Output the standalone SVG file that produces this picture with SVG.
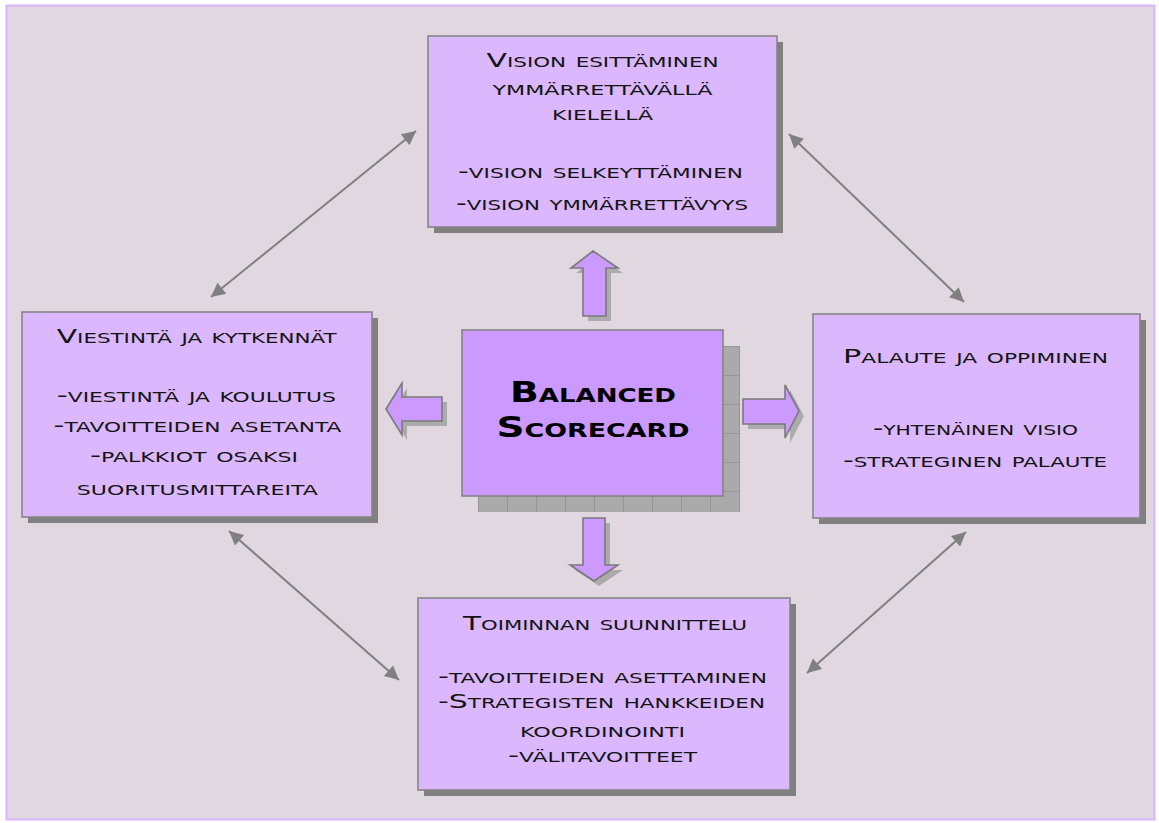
<svg xmlns="http://www.w3.org/2000/svg" width="1159" height="823" viewBox="0 0 1159 823">
<defs>
<style>
.box{fill:#dbb8fd;stroke:#858585;stroke-width:1.6}
.shd{fill:#808080}
.t{font-family:"DejaVu Sans","Liberation Sans",sans-serif;font-size:19.5px;font-variant:small-caps;fill:#141414;text-anchor:middle}
.big{font-family:"DejaVu Sans","Liberation Sans",sans-serif;font-size:29px;font-weight:bold;font-variant:small-caps;fill:#000;text-anchor:middle}
.conn{stroke:#808080;stroke-width:2;fill:none;marker-start:url(#ah);marker-end:url(#ah)}
.barr{fill:#cc99ff;stroke:#7a7a7a;stroke-width:1.6}
.bshd{fill:#ababab}
</style>
<marker id="ah" viewBox="0 0 10 10" refX="10" refY="5" markerWidth="8" markerHeight="7" markerUnits="strokeWidth" orient="auto-start-reverse">
<path d="M0,0 L10,5 L0,10 z" fill="#808080"/>
</marker>
<pattern id="brick" x="478" y="346" width="29" height="29" patternUnits="userSpaceOnUse">
<rect width="29" height="29" fill="#aaaaaa"/>
<path d="M0,0.5 H29 M0.5,0 V29" stroke="#959595" stroke-width="1"/>
</pattern>
</defs>
<rect x="6.5" y="5.5" width="1148" height="814" fill="#e1d7e1" stroke="#d9b3fd" stroke-width="2"/>

<g id="connectors">
<line class="conn" x1="211" y1="297" x2="416" y2="131"/>
<line class="conn" x1="789" y1="134" x2="964" y2="302"/>
<line class="conn" x1="229" y1="531" x2="399" y2="680"/>
<line class="conn" x1="966" y1="532" x2="807" y2="673"/>
</g>

<g id="arrow-up">
<polygon class="bshd" points="598,256 623,273 611,273 611,321 588,321 588,273 576,273"/>
<polygon class="barr" points="593,251 618,268 606,268 606,316 583,316 583,268 571,268"/>
</g>
<g id="arrow-left">
<polygon class="bshd" points="391,414 407,388 407,402 447,402 447,426 407,426 407,440"/>
<polygon class="barr" points="386,409 402,383 402,397 442,397 442,421 402,421 402,435"/>
</g>
<g id="arrow-right">
<polygon class="bshd" points="804,416 790,390 790,404 748,404 748,429 790,429 790,443"/>
<polygon class="barr" points="799,411 785,385 785,399 743,399 743,424 785,424 785,438"/>
</g>
<g id="arrow-down">
<polygon class="bshd" points="599,586 623,570 610,570 610,523 588,523 588,570 575,570"/>
<polygon class="barr" points="594,581 618,565 605,565 605,518 583,518 583,565 570,565"/>
</g>

<g id="center">
<rect x="478" y="346" width="262" height="166" fill="url(#brick)"/>
<rect x="462" y="330" width="261" height="166" fill="#cc99ff" stroke="#858585" stroke-width="1.6"/>
<text class="big" x="593" y="401.5" textLength="166" lengthAdjust="spacingAndGlyphs">Balanced</text>
<text class="big" x="593" y="436.5" textLength="193" lengthAdjust="spacingAndGlyphs">Scorecard</text>
</g>

<g id="top">
<rect class="shd" x="434" y="42" width="349" height="191"/>
<rect class="box" x="428" y="36" width="349" height="191"/>
<text class="t" x="602.5" y="66.5" textLength="232" lengthAdjust="spacingAndGlyphs">Vision esittäminen</text>
<text class="t" x="602.5" y="95" textLength="220" lengthAdjust="spacingAndGlyphs">ymmärrettävällä</text>
<text class="t" x="602.5" y="120" textLength="101" lengthAdjust="spacingAndGlyphs">kielellä</text>
<text class="t" x="600.5" y="178" textLength="285" lengthAdjust="spacingAndGlyphs">-vision selkeyttäminen</text>
<text class="t" x="602" y="210" textLength="292" lengthAdjust="spacingAndGlyphs">-vision ymmärrettävyys</text>
</g>

<g id="left">
<rect class="shd" x="28" y="318" width="350" height="205"/>
<rect class="box" x="22" y="312" width="350" height="205"/>
<text class="t" x="196.7" y="343" textLength="280" lengthAdjust="spacingAndGlyphs">Viestintä ja kytkennät</text>
<text class="t" x="196.3" y="401.7" textLength="279" lengthAdjust="spacingAndGlyphs">-viestintä ja koulutus</text>
<text class="t" x="197.5" y="431.7" textLength="288" lengthAdjust="spacingAndGlyphs">-tavoitteiden asetanta</text>
<text class="t" x="194" y="461.7" textLength="208" lengthAdjust="spacingAndGlyphs">-palkkiot osaksi</text>
<text class="t" x="197.3" y="495" textLength="241" lengthAdjust="spacingAndGlyphs">suoritusmittareita</text>
</g>

<g id="right">
<rect class="shd" x="819" y="320" width="327" height="204"/>
<rect class="box" x="813" y="314" width="327" height="204"/>
<text class="t" x="975.5" y="362.7" textLength="265" lengthAdjust="spacingAndGlyphs">Palaute ja oppiminen</text>
<text class="t" x="975.5" y="435" textLength="205" lengthAdjust="spacingAndGlyphs">-yhtenäinen visio</text>
<text class="t" x="975" y="466.7" textLength="264" lengthAdjust="spacingAndGlyphs">-strateginen palaute</text>
</g>

<g id="bottom">
<rect class="shd" x="424" y="604" width="372" height="192"/>
<rect class="box" x="418" y="598" width="372" height="192"/>
<text class="t" x="605" y="630" textLength="284" lengthAdjust="spacingAndGlyphs">Toiminnan suunnittelu</text>
<text class="t" x="602.5" y="683" textLength="329" lengthAdjust="spacingAndGlyphs">-tavoitteiden asettaminen</text>
<text class="t" x="601.5" y="708" textLength="327" lengthAdjust="spacingAndGlyphs">-Strategisten hankkeiden</text>
<text class="t" x="602.5" y="737" textLength="165" lengthAdjust="spacingAndGlyphs">koordinointi</text>
<text class="t" x="602.5" y="762" textLength="189" lengthAdjust="spacingAndGlyphs">-välitavoitteet</text>
</g>
</svg>
